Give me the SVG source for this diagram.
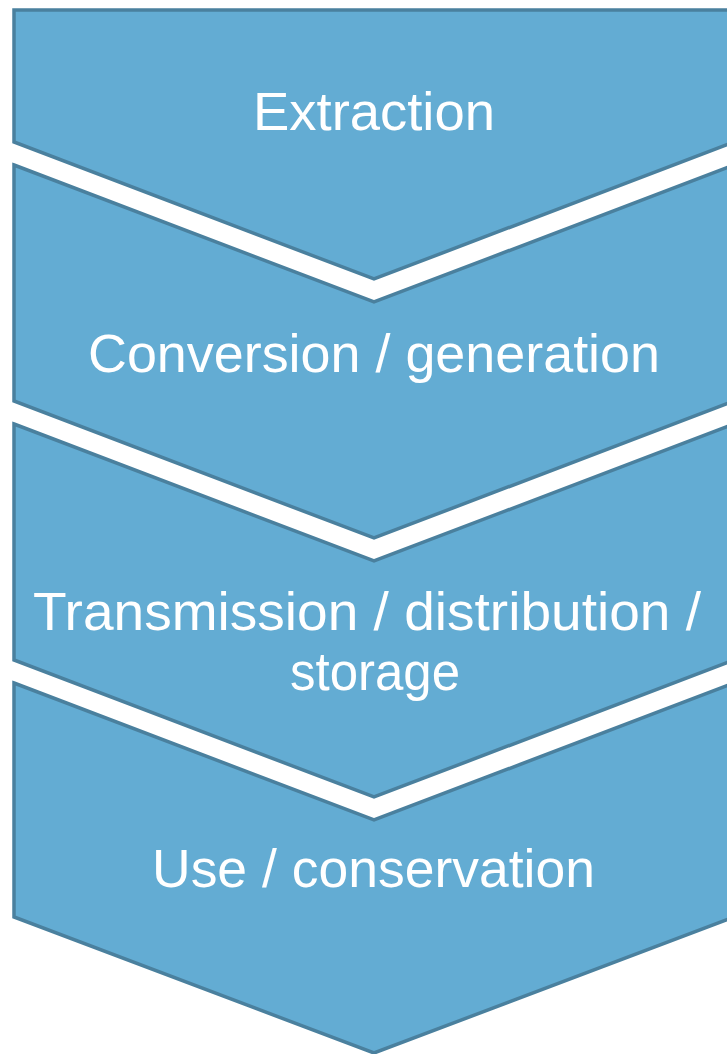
<svg xmlns="http://www.w3.org/2000/svg" width="727" height="1054" viewBox="0 0 727 1054">
<style>
.shape{fill:#63acd3;stroke:#4a809e;stroke-width:3.5;stroke-linejoin:miter}
.lbl{font-family:"Liberation Sans","Noto Sans",sans-serif;font-size:53px;fill:#ffffff}
</style>
<rect width="727" height="1054" fill="#ffffff"/>
<g id="node-extraction">
<path class="shape" d="M14,10 L734,10 L734,142 L374,279 L14,142 Z"/>
<text class="lbl" x="253" y="130" textLength="242" lengthAdjust="spacingAndGlyphs">Extraction</text>
</g>
<g id="node-conversion">
<path class="shape" d="M14,165 L374,302 L734,165 L734,401 L374,538 L14,401 Z"/>
<text class="lbl" x="88" y="372" textLength="572" lengthAdjust="spacingAndGlyphs">Conversion / generation</text>
</g>
<g id="node-transmission">
<path class="shape" d="M14,424 L374,561 L734,424 L734,660 L374,797 L14,660 Z"/>
<text class="lbl" x="33" y="630" textLength="668" lengthAdjust="spacingAndGlyphs">Transmission / distribution /</text>
<text class="lbl" x="290" y="690" textLength="170" lengthAdjust="spacingAndGlyphs">storage</text>
</g>
<g id="node-use">
<path class="shape" d="M14,683 L374,820 L734,683 L734,917 L374,1053 L14,917 Z"/>
<text class="lbl" x="152" y="887" textLength="443" lengthAdjust="spacingAndGlyphs">Use / conservation</text>
</g>
<g id="connectors"></g>
</svg>
